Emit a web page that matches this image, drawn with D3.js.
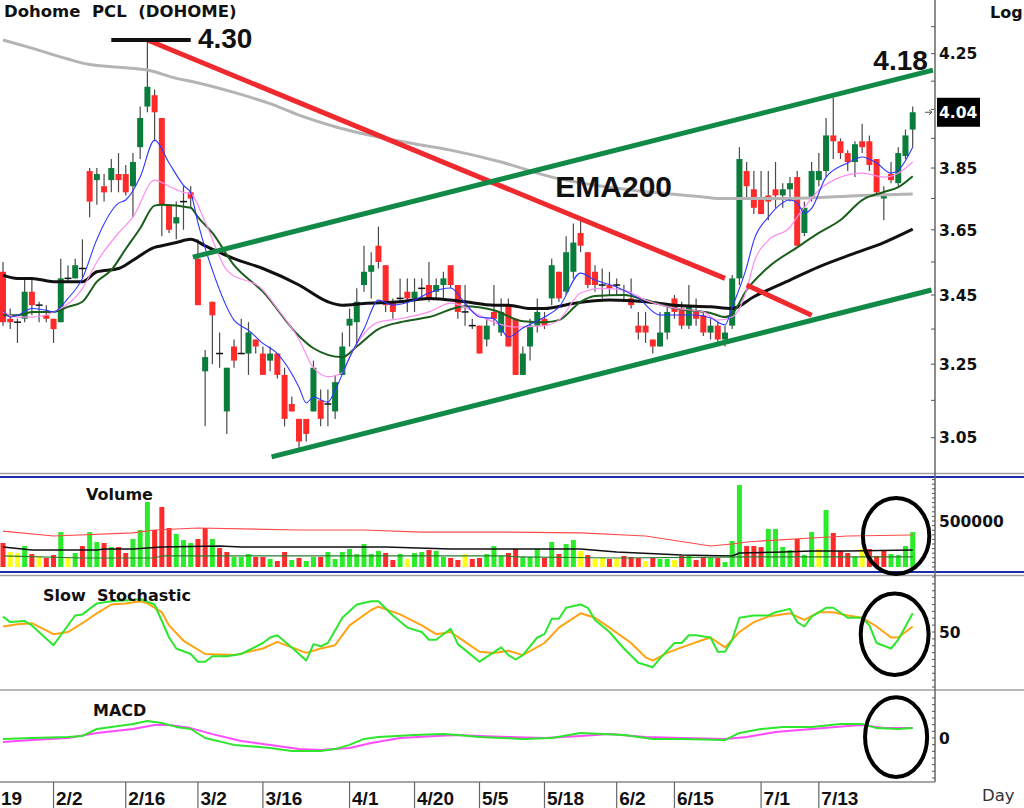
<!DOCTYPE html>
<html>
<head>
<meta charset="utf-8">
<script src="https://cdn.jsdelivr.net/npm/d3@7"></script>
<style>
body{margin:0;background:#fff}
svg{display:block}
text{font-family:"DejaVu Sans",sans-serif;font-weight:bold;fill:#111}
</style>
</head>
<body>
<div id="chart"></div>
<script>
"use strict";
// ---- data ----
const opens  = [3.52,3.38,3.37,3.38,3.46,3.42,3.39,3.38,3.37,3.50, 3.50,3.53,3.84,3.81,3.79,3.81,3.83,3.83,3.79,3.92,
  4.06,4.10,4.02,3.73,3.67,3.74,3.77,3.56,3.23,3.43, 3.28,3.12,3.30,3.28,3.28,3.32,3.28,3.26,3.28,3.22,
  3.14,3.10,3.10,3.12,3.15,3.14,3.12,3.22,3.36,3.37, 3.48,3.52,3.60,3.54,3.43,3.44,3.46,3.44,3.47,3.48,
  3.46,3.48,3.54,3.48,3.40,3.36,3.36,3.32,3.40,3.34, 3.42,3.38,3.22,3.30,3.36,3.38,3.44,3.52,3.46,3.52,
  3.64,3.58,3.52,3.48,3.48,3.48,3.45,3.44,3.36,3.36, 3.32,3.30,3.34,3.44,3.41,3.36,3.40,3.39,3.34,3.36,
  3.32,3.36,3.50,3.84,3.78,3.75,3.76,3.78,3.76,3.78, 3.82,3.64,3.75,3.81,3.84,3.96,3.94,3.90,3.87,3.94,
  3.94,3.88,3.75,3.83,3.80,3.89,3.98];
const highs  = [3.55,3.41,3.38,3.50,3.50,3.43,3.42,3.38,3.56,3.54, 3.56,3.62,3.85,3.85,3.83,3.88,3.90,3.86,3.90,4.06,
  4.30,4.12,4.02,3.73,3.74,3.79,3.79,3.62,3.29,3.43, 3.34,3.24,3.32,3.38,3.37,3.32,3.30,3.30,3.28,3.24,
  3.16,3.10,3.10,3.26,3.18,3.18,3.22,3.34,3.41,3.47, 3.60,3.58,3.66,3.54,3.44,3.50,3.50,3.50,3.50,3.55,
  3.50,3.52,3.54,3.48,3.48,3.38,3.36,3.38,3.48,3.44, 3.44,3.38,3.30,3.38,3.44,3.40,3.56,3.52,3.63,3.67,
  3.69,3.58,3.54,3.53,3.52,3.50,3.48,3.50,3.40,3.40, 3.32,3.40,3.42,3.45,3.43,3.48,3.44,3.40,3.38,3.37,
  3.36,3.51,3.92,3.87,3.84,3.84,3.84,3.87,3.80,3.82, 3.84,3.74,3.87,3.90,4.02,4.09,3.95,3.91,3.94,4.00,
  3.96,3.88,3.79,3.87,3.92,3.98,4.06];
const lows   = [3.36,3.35,3.31,3.37,3.39,3.37,3.37,3.31,3.37,3.49, 3.50,3.50,3.69,3.73,3.74,3.77,3.77,3.76,3.69,3.88,
  4.04,3.94,3.63,3.64,3.62,3.65,3.72,3.42,3.08,3.25, 3.24,3.06,3.24,3.28,3.22,3.28,3.22,3.23,3.21,3.08,
  3.12,3.02,3.04,3.12,3.08,3.08,3.10,3.22,3.30,3.30, 3.46,3.44,3.53,3.40,3.38,3.43,3.40,3.40,3.44,3.43,
  3.44,3.44,3.47,3.38,3.36,3.35,3.28,3.30,3.36,3.33, 3.30,3.22,3.22,3.26,3.34,3.35,3.42,3.43,3.45,3.50,
  3.58,3.47,3.46,3.44,3.45,3.45,3.43,3.41,3.32,3.31, 3.28,3.30,3.32,3.38,3.35,3.35,3.36,3.33,3.32,3.31,
  3.30,3.35,3.48,3.75,3.70,3.70,3.68,3.72,3.72,3.74, 3.60,3.63,3.74,3.79,3.82,3.88,3.88,3.84,3.82,3.90,
  3.84,3.76,3.68,3.80,3.79,3.88,3.92];
const closes = [3.37,3.37,3.37,3.46,3.42,3.42,3.38,3.35,3.50,3.50, 3.54,3.53,3.74,3.83,3.77,3.85,3.81,3.77,3.87,4.02,
  4.13,4.04,3.73,3.65,3.69,3.74,3.75,3.42,3.27,3.39, 3.28,3.24,3.26,3.28,3.34,3.30,3.22,3.28,3.22,3.10,
  3.12,3.04,3.06,3.24,3.10,3.14,3.20,3.30,3.38,3.43, 3.52,3.54,3.55,3.42,3.40,3.44,3.44,3.46,3.47,3.44,
  3.48,3.50,3.48,3.40,3.40,3.36,3.28,3.36,3.38,3.40, 3.30,3.22,3.28,3.36,3.40,3.36,3.54,3.44,3.58,3.61,
  3.60,3.48,3.48,3.48,3.47,3.48,3.45,3.42,3.34,3.34, 3.30,3.34,3.40,3.40,3.36,3.42,3.38,3.34,3.36,3.32,
  3.34,3.50,3.88,3.79,3.72,3.70,3.74,3.76,3.78,3.80, 3.60,3.72,3.84,3.84,3.96,3.94,3.90,3.87,3.93,3.92,
  3.86,3.77,3.76,3.81,3.90,3.96,4.04];
// volume in thousands of shares, colour code G up / R down / Y unchanged
const volumes = [261,163,152,228,141,120,98,130,380,109, 152,228,380,272,261,217,217,152,304,402,
  706,402,652,424,359,293,261,304,424,304, 207,163,109,109,141,109,109,87,65,163,
  76,98,65,109,109,163,87,163,196,141, 250,141,174,152,76,141,87,152,163,185,
  174,109,98,76,141,87,98,141,228,120, 152,196,109,109,196,98,272,141,250,293,
  174,130,87,98,87,87,120,109,98,65, 98,87,87,76,120,120,76,109,98,98,
  54,283,891,228,228,217,413,413,217,185, 304,130,380,196,620,370,174,152,109,196,
  196,120,174,141,130,228,380];
const volColors = "RYYGRYRRGYGRGGRGRRGGGRRRGGGRRGRRGGGRRGRRGRGGRGGGGGGGGRRGYGGRGGRRYRRGGGRRGGGRGRGGYRYYRYRRRYRGGYRGRRGRGGGRRRGGGGRGGYGRRRGYRRRGGGG";
// moving averages, [bar index, value]
const emaBlue  = [[0,3.405],[1,3.385],[2,3.39],[4,3.41],[6,3.405],[7,3.40],[9,3.44],[11,3.50],[13,3.62],[16,3.735],[17,3.745],[19,3.82],[21,3.944],[23,3.867],[25,3.793],[26,3.768],[27,3.672],[29,3.525],[32,3.376],[34,3.347],[36,3.309],[38,3.28],[41,3.186],[42,3.143],[43,3.159],[45,3.145],[46,3.178],[48,3.269],[50,3.35],[52,3.435],[54,3.42],[57,3.435],[59,3.456],[62,3.471],[64,3.426],[66,3.385],[68,3.38],[70,3.327],[72,3.353],[75,3.385],[77,3.414],[80,3.516],[82,3.495],[85,3.474],[88,3.44],[91,3.391],[93,3.391],[96,3.391],[98,3.382],[100,3.362],[101,3.414],[103,3.534],[104,3.617],[106,3.69],[109,3.745],[110,3.736],[111,3.703],[112,3.718],[114,3.82],[117,3.867],[119,3.887],[121,3.867],[123,3.833],[124,3.843],[126,3.92]];
const emaPink  = [[0,3.40],[2,3.385],[4,3.385],[7,3.40],[11,3.47],[13,3.55],[16,3.64],[18,3.69],[21,3.81],[23,3.79],[25,3.77],[26,3.765],[28,3.675],[31,3.525],[36,3.465],[38,3.41],[41,3.32],[43,3.24],[45,3.215],[47,3.226],[48,3.27],[52,3.37],[55,3.38],[59,3.40],[62,3.426],[64,3.414],[66,3.39],[71,3.356],[75,3.36],[77,3.376],[80,3.456],[83,3.47],[86,3.465],[89,3.435],[93,3.411],[97,3.40],[99,3.376],[101,3.385],[103,3.465],[104,3.547],[106,3.617],[109,3.658],[110,3.69],[113,3.777],[116,3.82],[119,3.833],[122,3.82],[124,3.833],[126,3.87]];
const emaGreen = [[0,3.39],[2,3.39],[4,3.40],[7,3.40],[9,3.415],[11,3.43],[13,3.49],[15,3.525],[17,3.59],[19,3.655],[21,3.727],[22,3.73],[26,3.72],[27,3.69],[29,3.64],[32,3.54],[36,3.46],[41,3.33],[43,3.295],[47,3.27],[49,3.30],[52,3.35],[55,3.37],[59,3.385],[64,3.417],[68,3.405],[72,3.373],[75,3.37],[77,3.376],[80,3.43],[82,3.447],[86,3.45],[89,3.435],[93,3.411],[98,3.397],[100,3.385],[101,3.395],[103,3.465],[106,3.534],[110,3.595],[113,3.64],[116,3.681],[119,3.745],[122,3.771],[124,3.787],[126,3.823]];
const emaBlack = [[0,3.51],[2,3.50],[4,3.50],[7,3.49],[11,3.49],[13,3.52],[16,3.53],[18,3.555],[21,3.595],[22,3.60],[24,3.61],[26,3.62],[28,3.60],[32,3.56],[36,3.53],[41,3.48],[45,3.43],[47,3.42],[50,3.425],[55,3.43],[59,3.44],[64,3.43],[68,3.42],[70,3.42],[73,3.41],[75,3.41],[79,3.425],[84,3.435],[89,3.43],[93,3.42],[98,3.415],[101,3.41],[104,3.445],[109,3.495],[113,3.535],[118,3.577],[122,3.61],[126,3.652]];
const ema200   = [[0,4.30],[4,4.27],[9,4.23],[12,4.21],[16,4.20],[20,4.19],[24,4.16],[26,4.15],[32,4.11],[37,4.07],[41,4.03],[46,3.99],[55,3.94],[62,3.91],[69,3.87],[76,3.82],[83,3.79],[90,3.77],[97,3.755],[99,3.75],[109,3.75],[119,3.76],[126,3.765]];
// volume averages (thousands)
const volMaRed   = [[0,391],[7,337],[18,370],[21,402],[27,424],[41,402],[50,402],[58,380],[70,380],[80,370],[89,337],[98,228],[101,250],[103,272],[107,293],[112,315],[117,337],[126,348]];
const volMaBlack = [[0,217],[4,185],[13,185],[14,196],[18,196],[20,207],[22,217],[30,228],[33,217],[53,217],[62,196],[80,196],[85,163],[94,130],[101,120],[102,152],[108,163],[112,174],[117,174],[126,185]];
const volMaGreen = [[0,120],[11,98],[21,98],[22,120],[70,120],[71,109],[85,98],[103,109],[126,109]];
// slow stochastic %K and %D
const stochK = [[0,64],[1,59],[3,60],[4,56],[7,38],[10,65],[11,66],[13,76],[15,78],[18,79],[19,80],[21,75],[23,45],[24,35],[26,30],[27,23],[28,23],[29,28],[31,28],[33,30],[36,40],[37,45],[38,47],[40,36],[42,24],[43,39],[44,37],[45,40],[47,63],[49,75],[51,78],[52,78],[54,65],[56,54],[58,50],[59,43],[60,43],[62,53],[63,39],[66,23],[69,36],[70,29],[71,25],[72,29],[74,45],[75,48],[76,62],[77,62],[78,72],[80,75],[81,72],[82,61],[84,50],[86,35],[88,22],[90,18],[91,26],[93,40],[94,40],[95,47],[96,47],[98,45],[99,32],[100,32],[101,43],[102,63],[104,65],[106,65],[107,68],[109,71],[110,59],[111,55],[112,64],[114,72],[115,72],[117,63],[119,63],[120,56],[121,40],[123,35],[124,43],[126,67]];
const stochD = [[0,55],[2,57],[4,58],[7,48],[9,50],[11,58],[13,67],[15,75],[17,76],[19,78],[20,76],[22,68],[23,56],[25,42],[28,30],[32,29],[36,35],[38,41],[40,36],[42,31],[44,35],[46,38],[48,56],[51,70],[52,73],[55,66],[58,56],[60,48],[62,50],[64,41],[66,32],[68,31],[70,33],[72,29],[75,40],[77,54],[80,67],[82,63],[84,54],[87,40],[89,27],[90,24],[92,31],[94,36],[97,43],[98,45],[100,36],[102,50],[104,59],[106,64],[109,67],[111,61],[113,68],[115,68],[117,65],[119,63],[121,55],[123,45],[124,45],[126,55]];
// MACD line and signal
const macdLine = [[0,-0.003],[4,0],[9,0.003],[11,0.007],[13,0.030],[15,0.037],[18,0.047],[20,0.057],[22,0.050],[24,0.037],[26,0.030],[28,0],[32,-0.023],[37,-0.033],[40,-0.043],[44,-0.043],[46,-0.037],[48,-0.023],[50,-0.003],[52,0.003],[57,0.010],[61,0.013],[63,0.010],[66,0.003],[69,0],[72,-0.003],[76,0],[80,0.017],[83,0.013],[86,0.010],[90,-0.003],[94,-0.003],[100,-0.007],[102,0.017],[105,0.030],[108,0.037],[112,0.037],[116,0.047],[119,0.047],[121,0.033],[124,0.030],[126,0.033]];
const macdSignal = [[0,-0.013],[4,-0.007],[9,0],[13,0.017],[18,0.030],[21,0.043],[23,0.043],[26,0.033],[29,0.013],[33,-0.010],[37,-0.023],[41,-0.037],[44,-0.040],[48,-0.033],[51,-0.017],[55,0],[60,0.007],[63,0.010],[66,0.007],[70,0.003],[75,0],[80,0.007],[84,0.013],[89,0.003],[94,0],[100,-0.003],[103,0.003],[107,0.020],[112,0.030],[117,0.040],[119,0.043],[122,0.033],[126,0.033]];
// axes
const dateTicks  = [7,17,27,36,48,57,66,75,85,93,105,113];
const dateLabels = ["2/2","2/16","3/2","3/16","4/1","4/20","5/5","5/18","6/2","6/15","7/1","7/13"];
const priceLabels = [3.05,3.25,3.45,3.65,3.85,4.25];
const lastPrice = 4.04;
// hand drawn trend lines [bar index, price]
const peakLine  = [[15,4.30],[26,4.30]];
const downLine1 = [[20,4.30],[100,3.50]];
const downLine2 = [[103,3.48],[112,3.39]];
const upperChan = [[26.3,3.565],[128.8,4.19]];
const lowerChan = [[37.2,3.00],[128.6,3.465]];

// ---- layout ----
const W = 1024, H = 808, axisX = 935;
const svg = d3.select("#chart").append("svg").attr("width", W).attr("height", H);

const x  = d3.scaleLinear().domain([0, 126]).range([3, 912.7]);
const yP = d3.scaleLog().domain([3.05, 4.25]).range([437.7, 53.6]);
const yV = d3.scaleLinear().domain([0, 1000]).range([567, 475]);
const yS = d3.scaleLinear().domain([0, 100]).range([687, 577]);
const yM = d3.scaleLinear().domain([-0.15, 0.15]).range([783, 693]);

// panel frames
const hline = (y, x2, col, w) => svg.append("line").attr("x1", 0).attr("x2", x2)
  .attr("y1", y).attr("y2", y).attr("stroke", col).attr("stroke-width", w);
hline(473.5, W, "#a0a0a0", 1.5);
hline(477, W, "#1c2ca8", 2);
hline(572, W, "#1c2ca8", 2);
hline(575.5, W, "#a0a0a0", 1.5);
hline(690, W, "#a0a0a0", 1.5);
hline(782, axisX, "#8a8a8a", 1.5);
svg.append("line").attr("x1", axisX).attr("x2", axisX).attr("y1", 0).attr("y2", 782)
  .attr("stroke", "#666").attr("stroke-width", 1.5);

// ---- candles ----
const bars = d3.range(opens.length).map(i => ({i, o: opens[i], h: highs[i], l: lows[i], c: closes[i]}));
const gC = svg.append("g");
gC.selectAll(".wick").data(bars).join("line").attr("class", "wick")
  .attr("x1", d => x(d.i)).attr("x2", d => x(d.i))
  .attr("y1", d => yP(d.h)).attr("y2", d => yP(d.l))
  .attr("stroke", "#4a4a4a").attr("stroke-width", 1.2);
gC.selectAll(".body").data(bars.filter(d => d.o !== d.c)).join("rect").attr("class", "body")
  .attr("x", d => x(d.i) - 3).attr("width", 6)
  .attr("y", d => yP(Math.max(d.o, d.c)))
  .attr("height", d => Math.max(1.5, yP(Math.min(d.o, d.c)) - yP(Math.max(d.o, d.c))))
  .attr("fill", d => d.c > d.o ? "#0a7d3c" : "#ff2b2b");
gC.selectAll(".doji").data(bars.filter(d => d.o === d.c)).join("line").attr("class", "doji")
  .attr("x1", d => x(d.i) - 3.5).attr("x2", d => x(d.i) + 3.5)
  .attr("y1", d => yP(d.o)).attr("y2", d => yP(d.o))
  .attr("stroke", "#111").attr("stroke-width", 1.5);

// ---- moving averages ----
function drawLine(data, yScale, col, w, curve) {
  svg.append("path").datum(data)
    .attr("d", d3.line().x(d => x(d[0])).y(d => yScale(d[1])).curve(curve || d3.curveMonotoneX))
    .attr("fill", "none").attr("stroke", col).attr("stroke-width", w).attr("stroke-linejoin", "round");
}
drawLine(ema200, yP, "#b4b4b4", 3);
drawLine(emaBlack, yP, "#111", 3);
drawLine(emaGreen, yP, "#1b5e1b", 2);
drawLine(emaPink, yP, "#ff8cf0", 1.2);
drawLine(emaBlue, yP, "#2b35ff", 1.1);

// ---- trend lines ----
const seg = (pts, col, w) => svg.append("line")
  .attr("x1", x(pts[0][0])).attr("y1", yP(pts[0][1]))
  .attr("x2", x(pts[1][0])).attr("y2", yP(pts[1][1]))
  .attr("stroke", col).attr("stroke-width", w);
seg(downLine1, "#ee2a2f", 5);
seg(downLine2, "#ee2a2f", 5);
seg(upperChan, "#118a48", 5);
seg(lowerChan, "#118a48", 5);
seg(peakLine, "#111", 4);

const big = (t, xi, yv, anchor) => svg.append("text").text(t)
  .attr("x", x(xi)).attr("y", yP(yv)).attr("text-anchor", anchor || "start")
  .style("font-family", "'Liberation Sans', Arial, sans-serif").style("font-size", "28px");
big("4.30", 27, 4.27);
big("4.18", 128.1, 4.19, "end");
svg.append("text").text("EMA200").attr("x", x(76.5)).attr("y", yP(3.755))
  .style("font-family", "'Liberation Sans', Arial, sans-serif").style("font-size", "30px");

// ---- price axis ----
const pTicks = d3.range(0, 14).map(k => 3.05 + k * 0.1);
svg.append("g").selectAll("line").data(pTicks.filter(p => yP(p) > 2)).join("line")
  .attr("x1", axisX - 4).attr("x2", axisX).attr("y1", d => yP(d)).attr("y2", d => yP(d))
  .attr("stroke", "#555").attr("stroke-width", 1);
svg.append("g").selectAll("text").data(priceLabels).join("text")
  .attr("x", axisX + 4).attr("y", d => yP(d)).attr("dy", "0.37em")
  .style("font-size", "15.5px").text(d => d.toFixed(2));
svg.append("rect").attr("x", axisX + 2).attr("y", yP(lastPrice) - 14.5).attr("width", 43).attr("height", 29).attr("fill", "#000");
svg.append("text").attr("x", axisX + 4).attr("y", yP(lastPrice)).attr("dy", "0.37em")
  .style("font-size", "15.5px").style("fill", "#fff").text(lastPrice.toFixed(2));
svg.append("path").attr("d", `M${axisX - 10},${yP(lastPrice)}h7m-3,-2.5l3,2.5l-3,2.5`)
  .attr("fill", "none").attr("stroke", "#555").attr("stroke-width", 1);
svg.append("text").attr("x", 990).attr("y", 18).style("font-size", "16px").text("Log");
svg.append("text").attr("x", 4).attr("y", 17).style("font-size", "16.5px").style("white-space", "pre")
  .text("Dohome  PCL  (DOHOME)");

// ---- volume ----
const volFill = {G: "#2aec2a", R: "#ff2a2a", Y: "#ffff1a"};
svg.append("g").selectAll("rect").data(volumes).join("rect")
  .attr("x", (d, i) => x(i) - 2.5).attr("width", 5)
  .attr("y", d => yV(d)).attr("height", d => yV(0) - yV(d))
  .attr("fill", (d, i) => volFill[volColors[i]]);
drawLine(volMaRed, yV, "#ff4a4a", 1.2, d3.curveLinear);
drawLine(volMaBlack, yV, "#111", 1.6, d3.curveLinear);
drawLine(volMaGreen, yV, "#2c7a2c", 1.2, d3.curveLinear);
svg.append("g").selectAll("line").data(d3.range(0, 1001, 50).filter(v => yV(v) > 478)).join("line")
  .attr("x1", axisX - 3).attr("x2", axisX).attr("y1", d => yV(d)).attr("y2", d => yV(d))
  .attr("stroke", "#555");
svg.append("text").attr("x", axisX + 4).attr("y", yV(500)).attr("dy", "0.37em").style("font-size", "15.5px").text("500000");
svg.append("text").attr("x", 86).attr("y", 500).style("font-size", "16px").text("Volume");

// ---- slow stochastic ----
drawLine(stochD, yS, "#ffa312", 2, d3.curveLinear);
drawLine(stochK, yS, "#2ee62e", 2, d3.curveLinear);
svg.append("g").selectAll("line").data(d3.range(0, 16.5).map(k => k * 6.25)).join("line")
  .attr("x1", axisX - 3).attr("x2", axisX).attr("y1", d => yS(d)).attr("y2", d => yS(d))
  .attr("stroke", "#555");
svg.append("text").attr("x", axisX + 4).attr("y", yS(50)).attr("dy", "0.37em").style("font-size", "15.5px").text("50");
svg.append("text").attr("x", 43).attr("y", 601).style("font-size", "16px").style("white-space", "pre").text("Slow  Stochastic");

// ---- MACD ----
drawLine(macdSignal, yM, "#ff4cff", 2, d3.curveLinear);
drawLine(macdLine, yM, "#2ee62e", 2, d3.curveLinear);
svg.append("g").selectAll("line").data(d3.range(-6, 7).map(k => k * 0.0222)).join("line")
  .attr("x1", axisX - 3).attr("x2", axisX).attr("y1", d => yM(d)).attr("y2", d => yM(d))
  .attr("stroke", "#555");
svg.append("text").attr("x", axisX + 4).attr("y", yM(0)).attr("dy", "0.37em").style("font-size", "15.5px").text("0");
svg.append("text").attr("x", 93).attr("y", 716).style("font-size", "16px").text("MACD");

// ---- circled areas ----
const ell = (ci, cy, rxBars, ry) => svg.append("ellipse")
  .attr("cx", x(ci)).attr("cy", cy).attr("rx", x(ci + rxBars) - x(ci)).attr("ry", ry)
  .attr("fill", "none").attr("stroke", "#000").attr("stroke-width", 4);
ell(123.7, yV(337), 4.6, yV(0) - yV(413));
ell(123.5, yS(48), 4.7, yS(0) - yS(37));
ell(123.7, yM(0.003), 4.3, yM(0) - yM(0.133));

// ---- date axis ----
const gX = svg.append("g");
gX.selectAll("line").data(dateTicks).join("line")
  .attr("x1", d => x(d)).attr("x2", d => x(d)).attr("y1", 782).attr("y2", H)
  .attr("stroke", "#666").attr("stroke-width", 1.2);
gX.selectAll("text").data(dateTicks).join("text")
  .attr("x", d => x(d) + 2.5).attr("y", 805)
  .style("font-family", "'Liberation Sans', Arial, sans-serif").style("font-size", "19px")
  .text((d, i) => dateLabels[i]);
gX.append("text").attr("x", 1).attr("y", 805)
  .style("font-family", "'Liberation Sans', Arial, sans-serif").style("font-size", "19px").text("19");
svg.append("text").attr("x", 982).attr("y", 801).style("font-weight", "normal").style("fill", "#333")
  .style("font-size", "16.5px").text("Day");
</script>
</body>
</html>
